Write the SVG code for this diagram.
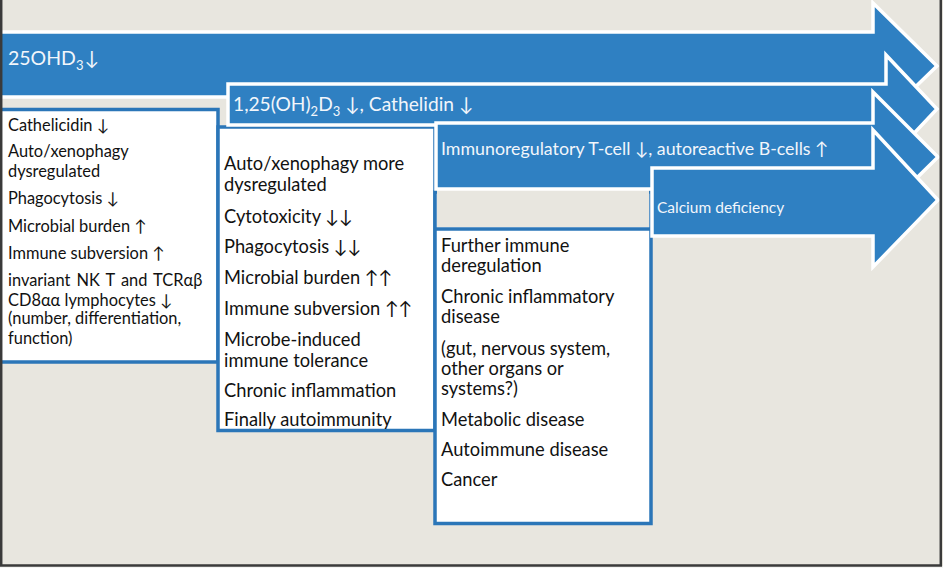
<svg xmlns="http://www.w3.org/2000/svg" width="943" height="568" viewBox="0 0 943 568">
<style>
.bg{fill:#e8e6df}
.box{fill:#ffffff;stroke:#2b76b8;stroke-width:3.5}
.arr{fill:#2f80c2;stroke:#ffffff;stroke-width:3.5;stroke-linejoin:miter}
.at{font-family:Lato,"Noto Sans","DejaVu Sans",sans-serif;fill:#f2f6fb}
.bt{font-family:Lato,"Noto Sans","DejaVu Sans",sans-serif;fill:#111111}
.b1{font-size:16.4px}
.b2{font-size:18.3px}
.b3{font-size:18.3px}
.frame{fill:none;stroke:#3a3a3a;stroke-width:2.5}
</style>
<rect class="bg" x="0" y="0" width="943" height="568"/>
<rect x="0" y="566" width="943" height="2" fill="#f4f4f2"/>

<g id="box1">
<rect class="box" x="-2" y="109.5" width="220" height="252.5"/>
<text class="bt b1" x="8" y="131">Cathelicidin ↓</text>
<text class="bt b1" x="8" y="157">Auto/xenophagy</text>
<text class="bt b1" x="8" y="177">dysregulated</text>
<text class="bt b1" x="8" y="204">Phagocytosis ↓</text>
<text class="bt b1" x="8" y="232">Microbial burden ↑</text>
<text class="bt b1" x="8" y="259">Immune subversion ↑</text>
<text class="bt b1" x="8" y="286" word-spacing="2">invariant NK T and TCRαβ</text>
<text class="bt b1" x="8" y="306">CD8αα  lymphocytes ↓</text>
<text class="bt b1" x="8" y="324">(number, differentiation,</text>
<text class="bt b1" x="8" y="344">function)</text>
</g>

<g id="box2">
<rect class="box" x="218" y="127" width="217" height="303.5"/>
<text class="bt b2" x="224" y="170">Auto/xenophagy more</text>
<text class="bt b2" x="224" y="191">dysregulated</text>
<text class="bt b2" x="224" y="223">Cytotoxicity ↓↓</text>
<text class="bt b2" x="224" y="253">Phagocytosis ↓↓</text>
<text class="bt b2" x="224" y="284">Microbial burden ↑↑</text>
<text class="bt b2" x="224" y="315">Immune subversion ↑↑</text>
<text class="bt b2" x="224" y="346">Microbe-induced</text>
<text class="bt b2" x="224" y="367">immune tolerance</text>
<text class="bt b2" x="224" y="397">Chronic inflammation</text>
<text class="bt b2" x="224" y="426">Finally autoimmunity</text>
</g>

<g id="box3">
<rect class="box" x="435" y="192" width="216" height="331.5"/>
<rect class="bg" x="437" y="188" width="212" height="39"/>
<line x1="436" y1="229" x2="650" y2="229" stroke="#2b76b8" stroke-width="3.5"/>
<text class="bt b3" x="441" y="252">Further immune</text>
<text class="bt b3" x="441" y="272">deregulation</text>
<text class="bt b3" x="441" y="303">Chronic inflammatory</text>
<text class="bt b3" x="441" y="323">disease</text>
<text class="bt b3" x="441" y="355">(gut, nervous system,</text>
<text class="bt b3" x="441" y="375">other organs or</text>
<text class="bt b3" x="441" y="395">systems?)</text>
<text class="bt b3" x="441" y="426">Metabolic disease</text>
<text class="bt b3" x="441" y="456">Autoimmune disease</text>
<text class="bt b3" x="441" y="486">Cancer</text>
</g>

<g id="arrow1">
<polygon class="arr" points="-6,32 873,32 873,3 937,66 873,128 873,97 -6,97"/>
<text class="at" x="8" y="65" font-size="19.5px">25OHD<tspan font-size="13px" dy="5">3</tspan><tspan dy="-5" dx="1">↓</tspan></text>
</g>

<g id="arrow2">
<polygon class="arr" points="228,84 886,84 886,55 937,109 886,163 886,125 228,125"/>
<text class="at" x="233" y="111" font-size="19.2px">1,25(OH)<tspan font-size="13px" dy="5">2</tspan><tspan dy="-5">D</tspan><tspan font-size="13px" dy="5">3</tspan><tspan dy="-5"> ↓, Cathelidin ↓</tspan></text>
</g>

<g id="arrow3">
<polygon class="arr" points="436,123 873,123 873,92 938,157 873,221 873,189 436,189"/>
<text class="at" x="441" y="155" font-size="17.8px">Immunoregulatory T-cell ↓, autoreactive B-cells ↑</text>
</g>

<g id="arrow4">
<polygon class="arr" points="652,168 873,168 873,130 938,200 873,267 873,236 652,236"/>
<text class="at" x="657" y="213" font-size="15.5px">Calcium deficiency</text>
</g>

<g id="connectors"></g>

<path class="frame" d="M1.2,-5 V565.5 H940.8 V-5"/>
</svg>
